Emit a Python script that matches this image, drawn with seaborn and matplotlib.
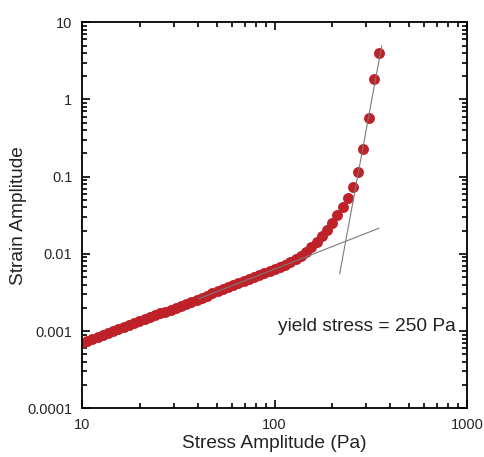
import matplotlib
matplotlib.use("Agg")
import matplotlib.pyplot as plt
import matplotlib.ticker as mticker
import seaborn as sns
import pandas as pd

stress = [10.00, 10.64, 11.33, 12.06, 12.83, 13.66, 14.54, 15.47, 16.47, 17.53,
          18.66, 19.86, 21.13, 22.49, 23.94, 25.48, 27.12, 28.87, 30.72, 32.70,
          34.80, 37.04, 39.43, 41.97, 44.67, 47.54, 50.60, 53.85, 57.32, 61.01,
          64.93, 69.11, 73.56, 78.29, 83.33, 88.69, 94.40, 100.4, 106.8, 113.7,
          121.0, 128.8, 137.1, 145.9, 155.3, 165.3, 175.9, 187.3, 199.3, 212.1,
          225.8, 240.3, 255.8, 272.3, 289.8, 308.4, 328.3, 349.4]
strain = [0.000695, 0.000738, 0.000782, 0.000830, 0.000881, 0.000935, 0.000992,
          0.001052, 0.001116, 0.001184, 0.001256, 0.001333, 0.001414, 0.001501,
          0.001592, 0.001690, 0.001792, 0.001902, 0.002018, 0.002141, 0.002272,
          0.002410, 0.002557, 0.002719, 0.002889, 0.003070, 0.003263, 0.003467,
          0.003685, 0.003916, 0.004161, 0.004422, 0.004699, 0.004994, 0.005307,
          0.005639, 0.005993, 0.006368, 0.00679, 0.00726, 0.00785, 0.00855,
          0.00944, 0.01067, 0.01225, 0.01436, 0.01718, 0.02056, 0.02512, 0.03162,
          0.0405, 0.0530, 0.0729, 0.114, 0.229, 0.581, 1.845, 3.96]

# tangent lines
lin_x = [40.2, 349.0]
lin_y = [0.00261, 0.0215]
steep_x = [218.0, 360.6]
steep_y = [0.0055, 4.98]

xticks = [10, 100, 1000]
yticks = [0.0001, 0.001, 0.01, 0.1, 1, 10]
annotation = "yield stress = 250 Pa"

sns.set_style("ticks")
plt.rcParams['font.family'] = ['Liberation Sans', 'DejaVu Sans']

fig = plt.figure(figsize=(4.84, 4.57), dpi=100)
ax = fig.add_axes([0.1694, 0.1066, 0.7955, 0.8446])

df = pd.DataFrame({"stress": stress, "strain": strain})
sns.scatterplot(data=df, x="stress", y="strain", ax=ax, color="#bf2129",
                s=62, edgecolor="#bf2129", linewidth=0, zorder=2)
sns.lineplot(x=lin_x, y=lin_y, ax=ax, color="#7a7a7a", linewidth=0.8, zorder=3)
sns.lineplot(x=steep_x, y=steep_y, ax=ax, color="#7a7a7a", linewidth=0.8, zorder=3)

ax.set_xscale("log")
ax.set_yscale("log")
ax.set_xlim(10, 1000)
ax.set_ylim(0.0001, 10)
ax.set_xticks(xticks)
ax.set_yticks(yticks)
fmt = mticker.FuncFormatter(lambda v, p: "{:g}".format(v))
ax.xaxis.set_major_formatter(fmt)
ax.yaxis.set_major_formatter(fmt)
ax.xaxis.set_minor_formatter(mticker.NullFormatter())
ax.yaxis.set_minor_formatter(mticker.NullFormatter())
ax.xaxis.set_minor_locator(mticker.LogLocator(base=10, subs=range(2, 10), numticks=20))
ax.yaxis.set_minor_locator(mticker.LogLocator(base=10, subs=range(2, 10), numticks=20))

ax.tick_params(which="both", direction="in", top=True, right=True, color="black", width=1.2)
ax.tick_params(which="major", length=6, labelsize=10.5, pad=7)
ax.tick_params(which="minor", length=3.5)
for sp in ax.spines.values():
    sp.set_visible(True)
    sp.set_linewidth(1.3)
    sp.set_color("black")

ax.set_xlabel("Stress Amplitude (Pa)", fontsize=13.8, labelpad=2, color="#222222")
ax.set_ylabel("Strain Amplitude", fontsize=13.8, labelpad=0, color="#222222")
ax.text(0.509, 0.212, annotation, transform=ax.transAxes, ha="left", va="center",
        fontsize=13.8, color="#222222")

fig.savefig("out.png", dpi=100)
